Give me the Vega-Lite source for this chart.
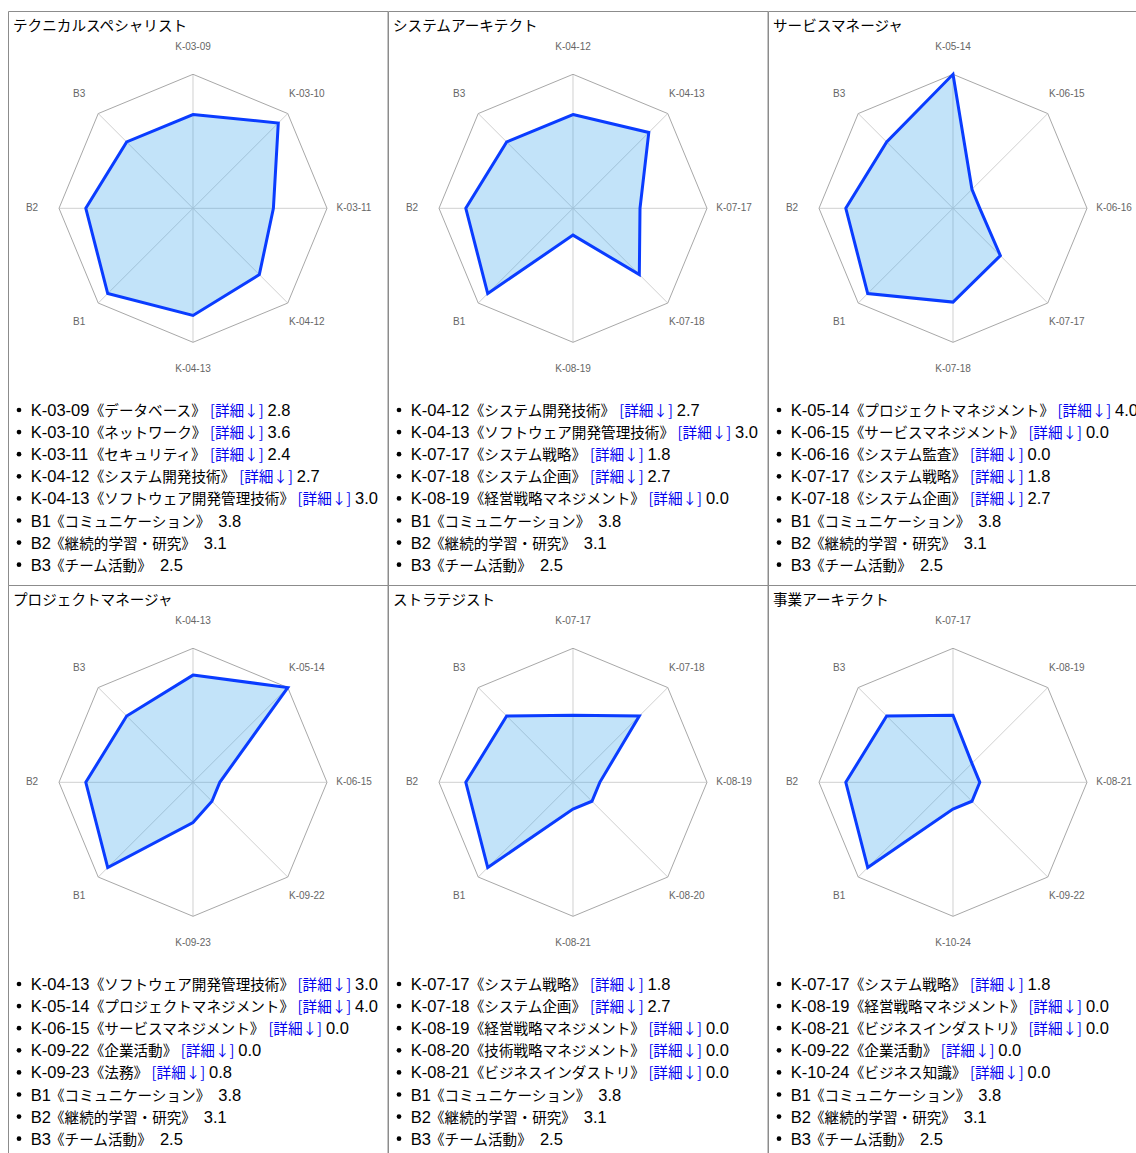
{
"$schema": "https://vega.github.io/schema/vega-lite/v6.json",
"usermeta": {"embedOptions": {"actions": false}},
"padding": {"left": 7, "top": 10, "right": 0, "bottom": 0},
"background": "white",
"bounds": "flush",
"spacing": 0,
"columns": 3,
"config": {
  "view": {"stroke": "#8c8c8c", "strokeWidth": 1},
  "title": {"anchor": "start", "frame": "group", "offset": -23, "dx": 5, "fontSize": 14.6, "font": "Noto Sans CJK JP", "fontWeight": "normal", "color": "#000000", "baseline": "alphabetic"}
},
"data": {"values": [
{"p":"テクニカルスペシャリスト","k":0,"code":"K-03-09","name":"データベース","v":2.8,"r":2.8},
{"p":"テクニカルスペシャリスト","k":1,"code":"K-03-10","name":"ネットワーク","v":3.6,"r":3.6},
{"p":"テクニカルスペシャリスト","k":2,"code":"K-03-11","name":"セキュリティ","v":2.4,"r":2.4},
{"p":"テクニカルスペシャリスト","k":3,"code":"K-04-12","name":"システム開発技術","v":2.7,"r":2.8},
{"p":"テクニカルスペシャリスト","k":4,"code":"K-04-13","name":"ソフトウェア開発管理技術","v":3.0,"r":3.2},
{"p":"テクニカルスペシャリスト","k":5,"code":"B1","name":"コミュニケーション","v":3.8,"r":3.6},
{"p":"テクニカルスペシャリスト","k":6,"code":"B2","name":"継続的学習・研究","v":3.1,"r":3.2},
{"p":"テクニカルスペシャリスト","k":7,"code":"B3","name":"チーム活動","v":2.5,"r":2.8},
{"p":"システムアーキテクト","k":0,"code":"K-04-12","name":"システム開発技術","v":2.7,"r":2.8},
{"p":"システムアーキテクト","k":1,"code":"K-04-13","name":"ソフトウェア開発管理技術","v":3.0,"r":3.2},
{"p":"システムアーキテクト","k":2,"code":"K-07-17","name":"システム戦略","v":1.8,"r":2.0},
{"p":"システムアーキテクト","k":3,"code":"K-07-18","name":"システム企画","v":2.7,"r":2.8},
{"p":"システムアーキテクト","k":4,"code":"K-08-19","name":"経営戦略マネジメント","v":0.0,"r":0.8},
{"p":"システムアーキテクト","k":5,"code":"B1","name":"コミュニケーション","v":3.8,"r":3.6},
{"p":"システムアーキテクト","k":6,"code":"B2","name":"継続的学習・研究","v":3.1,"r":3.2},
{"p":"システムアーキテクト","k":7,"code":"B3","name":"チーム活動","v":2.5,"r":2.8},
{"p":"サービスマネージャ","k":0,"code":"K-05-14","name":"プロジェクトマネジメント","v":4.0,"r":4.0},
{"p":"サービスマネージャ","k":1,"code":"K-06-15","name":"サービスマネジメント","v":0.0,"r":0.8},
{"p":"サービスマネージャ","k":2,"code":"K-06-16","name":"システム監査","v":0.0,"r":0.8},
{"p":"サービスマネージャ","k":3,"code":"K-07-17","name":"システム戦略","v":1.8,"r":2.0},
{"p":"サービスマネージャ","k":4,"code":"K-07-18","name":"システム企画","v":2.7,"r":2.8},
{"p":"サービスマネージャ","k":5,"code":"B1","name":"コミュニケーション","v":3.8,"r":3.6},
{"p":"サービスマネージャ","k":6,"code":"B2","name":"継続的学習・研究","v":3.1,"r":3.2},
{"p":"サービスマネージャ","k":7,"code":"B3","name":"チーム活動","v":2.5,"r":2.8},
{"p":"プロジェクトマネージャ","k":0,"code":"K-04-13","name":"ソフトウェア開発管理技術","v":3.0,"r":3.2},
{"p":"プロジェクトマネージャ","k":1,"code":"K-05-14","name":"プロジェクトマネジメント","v":4.0,"r":4.0},
{"p":"プロジェクトマネージャ","k":2,"code":"K-06-15","name":"サービスマネジメント","v":0.0,"r":0.8},
{"p":"プロジェクトマネージャ","k":3,"code":"K-09-22","name":"企業活動","v":0.0,"r":0.8},
{"p":"プロジェクトマネージャ","k":4,"code":"K-09-23","name":"法務","v":0.8,"r":1.2},
{"p":"プロジェクトマネージャ","k":5,"code":"B1","name":"コミュニケーション","v":3.8,"r":3.6},
{"p":"プロジェクトマネージャ","k":6,"code":"B2","name":"継続的学習・研究","v":3.1,"r":3.2},
{"p":"プロジェクトマネージャ","k":7,"code":"B3","name":"チーム活動","v":2.5,"r":2.8},
{"p":"ストラテジスト","k":0,"code":"K-07-17","name":"システム戦略","v":1.8,"r":2.0},
{"p":"ストラテジスト","k":1,"code":"K-07-18","name":"システム企画","v":2.7,"r":2.8},
{"p":"ストラテジスト","k":2,"code":"K-08-19","name":"経営戦略マネジメント","v":0.0,"r":0.8},
{"p":"ストラテジスト","k":3,"code":"K-08-20","name":"技術戦略マネジメント","v":0.0,"r":0.8},
{"p":"ストラテジスト","k":4,"code":"K-08-21","name":"ビジネスインダストリ","v":0.0,"r":0.8},
{"p":"ストラテジスト","k":5,"code":"B1","name":"コミュニケーション","v":3.8,"r":3.6},
{"p":"ストラテジスト","k":6,"code":"B2","name":"継続的学習・研究","v":3.1,"r":3.2},
{"p":"ストラテジスト","k":7,"code":"B3","name":"チーム活動","v":2.5,"r":2.8},
{"p":"事業アーキテクト","k":0,"code":"K-07-17","name":"システム戦略","v":1.8,"r":2.0},
{"p":"事業アーキテクト","k":1,"code":"K-08-19","name":"経営戦略マネジメント","v":0.0,"r":0.8},
{"p":"事業アーキテクト","k":2,"code":"K-08-21","name":"ビジネスインダストリ","v":0.0,"r":0.8},
{"p":"事業アーキテクト","k":3,"code":"K-09-22","name":"企業活動","v":0.0,"r":0.8},
{"p":"事業アーキテクト","k":4,"code":"K-10-24","name":"ビジネス知識","v":0.0,"r":0.8},
{"p":"事業アーキテクト","k":5,"code":"B1","name":"コミュニケーション","v":3.8,"r":3.6},
{"p":"事業アーキテクト","k":6,"code":"B2","name":"継続的学習・研究","v":3.1,"r":3.2},
{"p":"事業アーキテクト","k":7,"code":"B3","name":"チーム活動","v":2.5,"r":2.8}
]},
"transform": [
  {"calculate": "datum.k * PI / 4", "as": "t"},
  {"calculate": "datum.r * sin(datum.t)", "as": "rx"},
  {"calculate": "datum.r * cos(datum.t)", "as": "ry"},
  {"calculate": "4 * sin(datum.t)", "as": "ox"},
  {"calculate": "4 * cos(datum.t)", "as": "oy"},
  {"calculate": "4.806 * sin(datum.t)", "as": "lx"},
  {"calculate": "4.806 * cos(datum.t)", "as": "ly"},
  {"calculate": "0", "as": "z"},
  {"calculate": "11", "as": "bx"},
  {"calculate": "22.7", "as": "tx"},
  {"calculate": "substring(datum.code, 0, 1) == 'K'", "as": "isK"},
  {"calculate": "'《' + datum.name + '》'", "as": "cjk"},
  {"calculate": "22.7 + (datum.isK ? 59 : 19.3)", "as": "xc"},
  {"calculate": "datum.xc + (length(datum.name) + 2) * 14.6", "as": "xe"},
  {"calculate": "datum.xe + 3.5", "as": "xb"},
  {"calculate": "datum.isK ? datum.xb + 57.5 : datum.xe + 7.7", "as": "xv"}
],
"concat": [
{"width": 379.5, "height": 574, "title": "テクニカルスペシャリスト",
 "transform": [{"filter": "datum.p == 'テクニカルスペシャリスト'"}],
 "resolve": {"scale": {"x": "independent", "y": "independent"}},
 "layer": [
  {"layer": [
   {"mark": {"type": "rule", "stroke": "#d0d0d0", "strokeWidth": 1},
    "encoding": {"x": {"field": "z", "type": "quantitative", "scale": {"domain": [-5.5224, 5.806], "nice": false, "zero": false}, "axis": null},
                 "y": {"field": "z", "type": "quantitative", "scale": {"domain": [-11.2448, 5.8896], "nice": false, "zero": false}, "axis": null},
                 "x2": {"field": "ox"}, "y2": {"field": "oy"}}},
   {"mark": {"type": "line", "interpolate": "linear-closed", "stroke": "#a8a8a8", "strokeWidth": 1},
    "encoding": {"x": {"field": "ox", "type": "quantitative", "scale": {"domain": [-5.5224, 5.806], "nice": false, "zero": false}, "axis": null},
                 "y": {"field": "oy", "type": "quantitative", "scale": {"domain": [-11.2448, 5.8896], "nice": false, "zero": false}, "axis": null},
                 "order": {"field": "k", "type": "quantitative"}}},
   {"mark": {"type": "line", "interpolate": "linear-closed", "fill": "#36a2eb", "fillOpacity": 0.3, "stroke": "#0a3cff", "strokeWidth": 3, "strokeJoin": "miter"},
    "encoding": {"x": {"field": "rx", "type": "quantitative", "scale": {"domain": [-5.5224, 5.806], "nice": false, "zero": false}, "axis": null},
                 "y": {"field": "ry", "type": "quantitative", "scale": {"domain": [-11.2448, 5.8896], "nice": false, "zero": false}, "axis": null},
                 "order": {"field": "k", "type": "quantitative"}}},
   {"mark": {"type": "text", "font": "Liberation Sans", "fontSize": 10, "color": "#666666", "align": "center", "baseline": "middle"},
    "encoding": {"x": {"field": "lx", "type": "quantitative", "scale": {"domain": [-5.5224, 5.806], "nice": false, "zero": false}, "axis": null},
                 "y": {"field": "ly", "type": "quantitative", "scale": {"domain": [-11.2448, 5.8896], "nice": false, "zero": false}, "axis": null},
                 "text": {"field": "code", "type": "nominal"}}}
  ]},
  {"layer": [
   {"mark": {"type": "circle", "size": 22, "color": "#000000", "opacity": 1, "yOffset": -6},
    "encoding": {"x": {"field": "bx", "type": "quantitative", "scale": {"domain": [0, 379.5], "nice": false, "zero": false}, "axis": null},
                 "y": {"field": "k", "type": "quantitative", "scale": {"domain": [0, 7], "range": [405, 559.7], "nice": false, "zero": false}, "axis": null}}},
   {"mark": {"type": "text", "font": "Liberation Sans", "fontSize": 16.5, "color": "#000000", "align": "left", "baseline": "alphabetic"},
    "encoding": {"x": {"field": "tx", "type": "quantitative", "scale": {"domain": [0, 379.5], "nice": false, "zero": false}, "axis": null},
                 "y": {"field": "k", "type": "quantitative", "scale": {"domain": [0, 7], "range": [405, 559.7], "nice": false, "zero": false}, "axis": null},
                 "text": {"field": "code", "type": "nominal"}}},
   {"mark": {"type": "text", "font": "Noto Sans CJK JP", "fontSize": 14.6, "color": "#000000", "align": "left", "baseline": "alphabetic"},
    "encoding": {"x": {"field": "xc", "type": "quantitative", "scale": {"domain": [0, 379.5], "nice": false, "zero": false}, "axis": null},
                 "y": {"field": "k", "type": "quantitative", "scale": {"domain": [0, 7], "range": [405, 559.7], "nice": false, "zero": false}, "axis": null},
                 "text": {"field": "cjk", "type": "nominal"}}},
   {"transform": [{"filter": "datum.isK"}],
    "mark": {"type": "text", "text": "[詳細↓]", "font": "Noto Sans CJK JP", "fontSize": 14.6, "color": "#0000ee", "align": "left", "baseline": "alphabetic"},
    "encoding": {"x": {"field": "xb", "type": "quantitative", "scale": {"domain": [0, 379.5], "nice": false, "zero": false}, "axis": null},
                 "y": {"field": "k", "type": "quantitative", "scale": {"domain": [0, 7], "range": [405, 559.7], "nice": false, "zero": false}, "axis": null}}},
   {"mark": {"type": "text", "font": "Liberation Sans", "fontSize": 16.5, "color": "#000000", "align": "left", "baseline": "alphabetic"},
    "encoding": {"x": {"field": "xv", "type": "quantitative", "scale": {"domain": [0, 379.5], "nice": false, "zero": false}, "axis": null},
                 "y": {"field": "k", "type": "quantitative", "scale": {"domain": [0, 7], "range": [405, 559.7], "nice": false, "zero": false}, "axis": null},
                 "text": {"field": "v", "type": "quantitative", "format": ".1f"}}}
  ]}
 ]},
{"width": 379.5, "height": 574, "title": "システムアーキテクト",
 "transform": [{"filter": "datum.p == 'システムアーキテクト'"}],
 "resolve": {"scale": {"x": "independent", "y": "independent"}},
 "layer": [
  {"layer": [
   {"mark": {"type": "rule", "stroke": "#d0d0d0", "strokeWidth": 1},
    "encoding": {"x": {"field": "z", "type": "quantitative", "scale": {"domain": [-5.5224, 5.806], "nice": false, "zero": false}, "axis": null},
                 "y": {"field": "z", "type": "quantitative", "scale": {"domain": [-11.2448, 5.8896], "nice": false, "zero": false}, "axis": null},
                 "x2": {"field": "ox"}, "y2": {"field": "oy"}}},
   {"mark": {"type": "line", "interpolate": "linear-closed", "stroke": "#a8a8a8", "strokeWidth": 1},
    "encoding": {"x": {"field": "ox", "type": "quantitative", "scale": {"domain": [-5.5224, 5.806], "nice": false, "zero": false}, "axis": null},
                 "y": {"field": "oy", "type": "quantitative", "scale": {"domain": [-11.2448, 5.8896], "nice": false, "zero": false}, "axis": null},
                 "order": {"field": "k", "type": "quantitative"}}},
   {"mark": {"type": "line", "interpolate": "linear-closed", "fill": "#36a2eb", "fillOpacity": 0.3, "stroke": "#0a3cff", "strokeWidth": 3, "strokeJoin": "miter"},
    "encoding": {"x": {"field": "rx", "type": "quantitative", "scale": {"domain": [-5.5224, 5.806], "nice": false, "zero": false}, "axis": null},
                 "y": {"field": "ry", "type": "quantitative", "scale": {"domain": [-11.2448, 5.8896], "nice": false, "zero": false}, "axis": null},
                 "order": {"field": "k", "type": "quantitative"}}},
   {"mark": {"type": "text", "font": "Liberation Sans", "fontSize": 10, "color": "#666666", "align": "center", "baseline": "middle"},
    "encoding": {"x": {"field": "lx", "type": "quantitative", "scale": {"domain": [-5.5224, 5.806], "nice": false, "zero": false}, "axis": null},
                 "y": {"field": "ly", "type": "quantitative", "scale": {"domain": [-11.2448, 5.8896], "nice": false, "zero": false}, "axis": null},
                 "text": {"field": "code", "type": "nominal"}}}
  ]},
  {"layer": [
   {"mark": {"type": "circle", "size": 22, "color": "#000000", "opacity": 1, "yOffset": -6},
    "encoding": {"x": {"field": "bx", "type": "quantitative", "scale": {"domain": [0, 379.5], "nice": false, "zero": false}, "axis": null},
                 "y": {"field": "k", "type": "quantitative", "scale": {"domain": [0, 7], "range": [405, 559.7], "nice": false, "zero": false}, "axis": null}}},
   {"mark": {"type": "text", "font": "Liberation Sans", "fontSize": 16.5, "color": "#000000", "align": "left", "baseline": "alphabetic"},
    "encoding": {"x": {"field": "tx", "type": "quantitative", "scale": {"domain": [0, 379.5], "nice": false, "zero": false}, "axis": null},
                 "y": {"field": "k", "type": "quantitative", "scale": {"domain": [0, 7], "range": [405, 559.7], "nice": false, "zero": false}, "axis": null},
                 "text": {"field": "code", "type": "nominal"}}},
   {"mark": {"type": "text", "font": "Noto Sans CJK JP", "fontSize": 14.6, "color": "#000000", "align": "left", "baseline": "alphabetic"},
    "encoding": {"x": {"field": "xc", "type": "quantitative", "scale": {"domain": [0, 379.5], "nice": false, "zero": false}, "axis": null},
                 "y": {"field": "k", "type": "quantitative", "scale": {"domain": [0, 7], "range": [405, 559.7], "nice": false, "zero": false}, "axis": null},
                 "text": {"field": "cjk", "type": "nominal"}}},
   {"transform": [{"filter": "datum.isK"}],
    "mark": {"type": "text", "text": "[詳細↓]", "font": "Noto Sans CJK JP", "fontSize": 14.6, "color": "#0000ee", "align": "left", "baseline": "alphabetic"},
    "encoding": {"x": {"field": "xb", "type": "quantitative", "scale": {"domain": [0, 379.5], "nice": false, "zero": false}, "axis": null},
                 "y": {"field": "k", "type": "quantitative", "scale": {"domain": [0, 7], "range": [405, 559.7], "nice": false, "zero": false}, "axis": null}}},
   {"mark": {"type": "text", "font": "Liberation Sans", "fontSize": 16.5, "color": "#000000", "align": "left", "baseline": "alphabetic"},
    "encoding": {"x": {"field": "xv", "type": "quantitative", "scale": {"domain": [0, 379.5], "nice": false, "zero": false}, "axis": null},
                 "y": {"field": "k", "type": "quantitative", "scale": {"domain": [0, 7], "range": [405, 559.7], "nice": false, "zero": false}, "axis": null},
                 "text": {"field": "v", "type": "quantitative", "format": ".1f"}}}
  ]}
 ]},
{"width": 379.5, "height": 574, "title": "サービスマネージャ",
 "transform": [{"filter": "datum.p == 'サービスマネージャ'"}],
 "resolve": {"scale": {"x": "independent", "y": "independent"}},
 "layer": [
  {"layer": [
   {"mark": {"type": "rule", "stroke": "#d0d0d0", "strokeWidth": 1},
    "encoding": {"x": {"field": "z", "type": "quantitative", "scale": {"domain": [-5.5224, 5.806], "nice": false, "zero": false}, "axis": null},
                 "y": {"field": "z", "type": "quantitative", "scale": {"domain": [-11.2448, 5.8896], "nice": false, "zero": false}, "axis": null},
                 "x2": {"field": "ox"}, "y2": {"field": "oy"}}},
   {"mark": {"type": "line", "interpolate": "linear-closed", "stroke": "#a8a8a8", "strokeWidth": 1},
    "encoding": {"x": {"field": "ox", "type": "quantitative", "scale": {"domain": [-5.5224, 5.806], "nice": false, "zero": false}, "axis": null},
                 "y": {"field": "oy", "type": "quantitative", "scale": {"domain": [-11.2448, 5.8896], "nice": false, "zero": false}, "axis": null},
                 "order": {"field": "k", "type": "quantitative"}}},
   {"mark": {"type": "line", "interpolate": "linear-closed", "fill": "#36a2eb", "fillOpacity": 0.3, "stroke": "#0a3cff", "strokeWidth": 3, "strokeJoin": "miter"},
    "encoding": {"x": {"field": "rx", "type": "quantitative", "scale": {"domain": [-5.5224, 5.806], "nice": false, "zero": false}, "axis": null},
                 "y": {"field": "ry", "type": "quantitative", "scale": {"domain": [-11.2448, 5.8896], "nice": false, "zero": false}, "axis": null},
                 "order": {"field": "k", "type": "quantitative"}}},
   {"mark": {"type": "text", "font": "Liberation Sans", "fontSize": 10, "color": "#666666", "align": "center", "baseline": "middle"},
    "encoding": {"x": {"field": "lx", "type": "quantitative", "scale": {"domain": [-5.5224, 5.806], "nice": false, "zero": false}, "axis": null},
                 "y": {"field": "ly", "type": "quantitative", "scale": {"domain": [-11.2448, 5.8896], "nice": false, "zero": false}, "axis": null},
                 "text": {"field": "code", "type": "nominal"}}}
  ]},
  {"layer": [
   {"mark": {"type": "circle", "size": 22, "color": "#000000", "opacity": 1, "yOffset": -6},
    "encoding": {"x": {"field": "bx", "type": "quantitative", "scale": {"domain": [0, 379.5], "nice": false, "zero": false}, "axis": null},
                 "y": {"field": "k", "type": "quantitative", "scale": {"domain": [0, 7], "range": [405, 559.7], "nice": false, "zero": false}, "axis": null}}},
   {"mark": {"type": "text", "font": "Liberation Sans", "fontSize": 16.5, "color": "#000000", "align": "left", "baseline": "alphabetic"},
    "encoding": {"x": {"field": "tx", "type": "quantitative", "scale": {"domain": [0, 379.5], "nice": false, "zero": false}, "axis": null},
                 "y": {"field": "k", "type": "quantitative", "scale": {"domain": [0, 7], "range": [405, 559.7], "nice": false, "zero": false}, "axis": null},
                 "text": {"field": "code", "type": "nominal"}}},
   {"mark": {"type": "text", "font": "Noto Sans CJK JP", "fontSize": 14.6, "color": "#000000", "align": "left", "baseline": "alphabetic"},
    "encoding": {"x": {"field": "xc", "type": "quantitative", "scale": {"domain": [0, 379.5], "nice": false, "zero": false}, "axis": null},
                 "y": {"field": "k", "type": "quantitative", "scale": {"domain": [0, 7], "range": [405, 559.7], "nice": false, "zero": false}, "axis": null},
                 "text": {"field": "cjk", "type": "nominal"}}},
   {"transform": [{"filter": "datum.isK"}],
    "mark": {"type": "text", "text": "[詳細↓]", "font": "Noto Sans CJK JP", "fontSize": 14.6, "color": "#0000ee", "align": "left", "baseline": "alphabetic"},
    "encoding": {"x": {"field": "xb", "type": "quantitative", "scale": {"domain": [0, 379.5], "nice": false, "zero": false}, "axis": null},
                 "y": {"field": "k", "type": "quantitative", "scale": {"domain": [0, 7], "range": [405, 559.7], "nice": false, "zero": false}, "axis": null}}},
   {"mark": {"type": "text", "font": "Liberation Sans", "fontSize": 16.5, "color": "#000000", "align": "left", "baseline": "alphabetic"},
    "encoding": {"x": {"field": "xv", "type": "quantitative", "scale": {"domain": [0, 379.5], "nice": false, "zero": false}, "axis": null},
                 "y": {"field": "k", "type": "quantitative", "scale": {"domain": [0, 7], "range": [405, 559.7], "nice": false, "zero": false}, "axis": null},
                 "text": {"field": "v", "type": "quantitative", "format": ".1f"}}}
  ]}
 ]},
{"width": 379.5, "height": 574, "title": "プロジェクトマネージャ",
 "transform": [{"filter": "datum.p == 'プロジェクトマネージャ'"}],
 "resolve": {"scale": {"x": "independent", "y": "independent"}},
 "layer": [
  {"layer": [
   {"mark": {"type": "rule", "stroke": "#d0d0d0", "strokeWidth": 1},
    "encoding": {"x": {"field": "z", "type": "quantitative", "scale": {"domain": [-5.5224, 5.806], "nice": false, "zero": false}, "axis": null},
                 "y": {"field": "z", "type": "quantitative", "scale": {"domain": [-11.2448, 5.8896], "nice": false, "zero": false}, "axis": null},
                 "x2": {"field": "ox"}, "y2": {"field": "oy"}}},
   {"mark": {"type": "line", "interpolate": "linear-closed", "stroke": "#a8a8a8", "strokeWidth": 1},
    "encoding": {"x": {"field": "ox", "type": "quantitative", "scale": {"domain": [-5.5224, 5.806], "nice": false, "zero": false}, "axis": null},
                 "y": {"field": "oy", "type": "quantitative", "scale": {"domain": [-11.2448, 5.8896], "nice": false, "zero": false}, "axis": null},
                 "order": {"field": "k", "type": "quantitative"}}},
   {"mark": {"type": "line", "interpolate": "linear-closed", "fill": "#36a2eb", "fillOpacity": 0.3, "stroke": "#0a3cff", "strokeWidth": 3, "strokeJoin": "miter"},
    "encoding": {"x": {"field": "rx", "type": "quantitative", "scale": {"domain": [-5.5224, 5.806], "nice": false, "zero": false}, "axis": null},
                 "y": {"field": "ry", "type": "quantitative", "scale": {"domain": [-11.2448, 5.8896], "nice": false, "zero": false}, "axis": null},
                 "order": {"field": "k", "type": "quantitative"}}},
   {"mark": {"type": "text", "font": "Liberation Sans", "fontSize": 10, "color": "#666666", "align": "center", "baseline": "middle"},
    "encoding": {"x": {"field": "lx", "type": "quantitative", "scale": {"domain": [-5.5224, 5.806], "nice": false, "zero": false}, "axis": null},
                 "y": {"field": "ly", "type": "quantitative", "scale": {"domain": [-11.2448, 5.8896], "nice": false, "zero": false}, "axis": null},
                 "text": {"field": "code", "type": "nominal"}}}
  ]},
  {"layer": [
   {"mark": {"type": "circle", "size": 22, "color": "#000000", "opacity": 1, "yOffset": -6},
    "encoding": {"x": {"field": "bx", "type": "quantitative", "scale": {"domain": [0, 379.5], "nice": false, "zero": false}, "axis": null},
                 "y": {"field": "k", "type": "quantitative", "scale": {"domain": [0, 7], "range": [405, 559.7], "nice": false, "zero": false}, "axis": null}}},
   {"mark": {"type": "text", "font": "Liberation Sans", "fontSize": 16.5, "color": "#000000", "align": "left", "baseline": "alphabetic"},
    "encoding": {"x": {"field": "tx", "type": "quantitative", "scale": {"domain": [0, 379.5], "nice": false, "zero": false}, "axis": null},
                 "y": {"field": "k", "type": "quantitative", "scale": {"domain": [0, 7], "range": [405, 559.7], "nice": false, "zero": false}, "axis": null},
                 "text": {"field": "code", "type": "nominal"}}},
   {"mark": {"type": "text", "font": "Noto Sans CJK JP", "fontSize": 14.6, "color": "#000000", "align": "left", "baseline": "alphabetic"},
    "encoding": {"x": {"field": "xc", "type": "quantitative", "scale": {"domain": [0, 379.5], "nice": false, "zero": false}, "axis": null},
                 "y": {"field": "k", "type": "quantitative", "scale": {"domain": [0, 7], "range": [405, 559.7], "nice": false, "zero": false}, "axis": null},
                 "text": {"field": "cjk", "type": "nominal"}}},
   {"transform": [{"filter": "datum.isK"}],
    "mark": {"type": "text", "text": "[詳細↓]", "font": "Noto Sans CJK JP", "fontSize": 14.6, "color": "#0000ee", "align": "left", "baseline": "alphabetic"},
    "encoding": {"x": {"field": "xb", "type": "quantitative", "scale": {"domain": [0, 379.5], "nice": false, "zero": false}, "axis": null},
                 "y": {"field": "k", "type": "quantitative", "scale": {"domain": [0, 7], "range": [405, 559.7], "nice": false, "zero": false}, "axis": null}}},
   {"mark": {"type": "text", "font": "Liberation Sans", "fontSize": 16.5, "color": "#000000", "align": "left", "baseline": "alphabetic"},
    "encoding": {"x": {"field": "xv", "type": "quantitative", "scale": {"domain": [0, 379.5], "nice": false, "zero": false}, "axis": null},
                 "y": {"field": "k", "type": "quantitative", "scale": {"domain": [0, 7], "range": [405, 559.7], "nice": false, "zero": false}, "axis": null},
                 "text": {"field": "v", "type": "quantitative", "format": ".1f"}}}
  ]}
 ]},
{"width": 379.5, "height": 574, "title": "ストラテジスト",
 "transform": [{"filter": "datum.p == 'ストラテジスト'"}],
 "resolve": {"scale": {"x": "independent", "y": "independent"}},
 "layer": [
  {"layer": [
   {"mark": {"type": "rule", "stroke": "#d0d0d0", "strokeWidth": 1},
    "encoding": {"x": {"field": "z", "type": "quantitative", "scale": {"domain": [-5.5224, 5.806], "nice": false, "zero": false}, "axis": null},
                 "y": {"field": "z", "type": "quantitative", "scale": {"domain": [-11.2448, 5.8896], "nice": false, "zero": false}, "axis": null},
                 "x2": {"field": "ox"}, "y2": {"field": "oy"}}},
   {"mark": {"type": "line", "interpolate": "linear-closed", "stroke": "#a8a8a8", "strokeWidth": 1},
    "encoding": {"x": {"field": "ox", "type": "quantitative", "scale": {"domain": [-5.5224, 5.806], "nice": false, "zero": false}, "axis": null},
                 "y": {"field": "oy", "type": "quantitative", "scale": {"domain": [-11.2448, 5.8896], "nice": false, "zero": false}, "axis": null},
                 "order": {"field": "k", "type": "quantitative"}}},
   {"mark": {"type": "line", "interpolate": "linear-closed", "fill": "#36a2eb", "fillOpacity": 0.3, "stroke": "#0a3cff", "strokeWidth": 3, "strokeJoin": "miter"},
    "encoding": {"x": {"field": "rx", "type": "quantitative", "scale": {"domain": [-5.5224, 5.806], "nice": false, "zero": false}, "axis": null},
                 "y": {"field": "ry", "type": "quantitative", "scale": {"domain": [-11.2448, 5.8896], "nice": false, "zero": false}, "axis": null},
                 "order": {"field": "k", "type": "quantitative"}}},
   {"mark": {"type": "text", "font": "Liberation Sans", "fontSize": 10, "color": "#666666", "align": "center", "baseline": "middle"},
    "encoding": {"x": {"field": "lx", "type": "quantitative", "scale": {"domain": [-5.5224, 5.806], "nice": false, "zero": false}, "axis": null},
                 "y": {"field": "ly", "type": "quantitative", "scale": {"domain": [-11.2448, 5.8896], "nice": false, "zero": false}, "axis": null},
                 "text": {"field": "code", "type": "nominal"}}}
  ]},
  {"layer": [
   {"mark": {"type": "circle", "size": 22, "color": "#000000", "opacity": 1, "yOffset": -6},
    "encoding": {"x": {"field": "bx", "type": "quantitative", "scale": {"domain": [0, 379.5], "nice": false, "zero": false}, "axis": null},
                 "y": {"field": "k", "type": "quantitative", "scale": {"domain": [0, 7], "range": [405, 559.7], "nice": false, "zero": false}, "axis": null}}},
   {"mark": {"type": "text", "font": "Liberation Sans", "fontSize": 16.5, "color": "#000000", "align": "left", "baseline": "alphabetic"},
    "encoding": {"x": {"field": "tx", "type": "quantitative", "scale": {"domain": [0, 379.5], "nice": false, "zero": false}, "axis": null},
                 "y": {"field": "k", "type": "quantitative", "scale": {"domain": [0, 7], "range": [405, 559.7], "nice": false, "zero": false}, "axis": null},
                 "text": {"field": "code", "type": "nominal"}}},
   {"mark": {"type": "text", "font": "Noto Sans CJK JP", "fontSize": 14.6, "color": "#000000", "align": "left", "baseline": "alphabetic"},
    "encoding": {"x": {"field": "xc", "type": "quantitative", "scale": {"domain": [0, 379.5], "nice": false, "zero": false}, "axis": null},
                 "y": {"field": "k", "type": "quantitative", "scale": {"domain": [0, 7], "range": [405, 559.7], "nice": false, "zero": false}, "axis": null},
                 "text": {"field": "cjk", "type": "nominal"}}},
   {"transform": [{"filter": "datum.isK"}],
    "mark": {"type": "text", "text": "[詳細↓]", "font": "Noto Sans CJK JP", "fontSize": 14.6, "color": "#0000ee", "align": "left", "baseline": "alphabetic"},
    "encoding": {"x": {"field": "xb", "type": "quantitative", "scale": {"domain": [0, 379.5], "nice": false, "zero": false}, "axis": null},
                 "y": {"field": "k", "type": "quantitative", "scale": {"domain": [0, 7], "range": [405, 559.7], "nice": false, "zero": false}, "axis": null}}},
   {"mark": {"type": "text", "font": "Liberation Sans", "fontSize": 16.5, "color": "#000000", "align": "left", "baseline": "alphabetic"},
    "encoding": {"x": {"field": "xv", "type": "quantitative", "scale": {"domain": [0, 379.5], "nice": false, "zero": false}, "axis": null},
                 "y": {"field": "k", "type": "quantitative", "scale": {"domain": [0, 7], "range": [405, 559.7], "nice": false, "zero": false}, "axis": null},
                 "text": {"field": "v", "type": "quantitative", "format": ".1f"}}}
  ]}
 ]},
{"width": 379.5, "height": 574, "title": "事業アーキテクト",
 "transform": [{"filter": "datum.p == '事業アーキテクト'"}],
 "resolve": {"scale": {"x": "independent", "y": "independent"}},
 "layer": [
  {"layer": [
   {"mark": {"type": "rule", "stroke": "#d0d0d0", "strokeWidth": 1},
    "encoding": {"x": {"field": "z", "type": "quantitative", "scale": {"domain": [-5.5224, 5.806], "nice": false, "zero": false}, "axis": null},
                 "y": {"field": "z", "type": "quantitative", "scale": {"domain": [-11.2448, 5.8896], "nice": false, "zero": false}, "axis": null},
                 "x2": {"field": "ox"}, "y2": {"field": "oy"}}},
   {"mark": {"type": "line", "interpolate": "linear-closed", "stroke": "#a8a8a8", "strokeWidth": 1},
    "encoding": {"x": {"field": "ox", "type": "quantitative", "scale": {"domain": [-5.5224, 5.806], "nice": false, "zero": false}, "axis": null},
                 "y": {"field": "oy", "type": "quantitative", "scale": {"domain": [-11.2448, 5.8896], "nice": false, "zero": false}, "axis": null},
                 "order": {"field": "k", "type": "quantitative"}}},
   {"mark": {"type": "line", "interpolate": "linear-closed", "fill": "#36a2eb", "fillOpacity": 0.3, "stroke": "#0a3cff", "strokeWidth": 3, "strokeJoin": "miter"},
    "encoding": {"x": {"field": "rx", "type": "quantitative", "scale": {"domain": [-5.5224, 5.806], "nice": false, "zero": false}, "axis": null},
                 "y": {"field": "ry", "type": "quantitative", "scale": {"domain": [-11.2448, 5.8896], "nice": false, "zero": false}, "axis": null},
                 "order": {"field": "k", "type": "quantitative"}}},
   {"mark": {"type": "text", "font": "Liberation Sans", "fontSize": 10, "color": "#666666", "align": "center", "baseline": "middle"},
    "encoding": {"x": {"field": "lx", "type": "quantitative", "scale": {"domain": [-5.5224, 5.806], "nice": false, "zero": false}, "axis": null},
                 "y": {"field": "ly", "type": "quantitative", "scale": {"domain": [-11.2448, 5.8896], "nice": false, "zero": false}, "axis": null},
                 "text": {"field": "code", "type": "nominal"}}}
  ]},
  {"layer": [
   {"mark": {"type": "circle", "size": 22, "color": "#000000", "opacity": 1, "yOffset": -6},
    "encoding": {"x": {"field": "bx", "type": "quantitative", "scale": {"domain": [0, 379.5], "nice": false, "zero": false}, "axis": null},
                 "y": {"field": "k", "type": "quantitative", "scale": {"domain": [0, 7], "range": [405, 559.7], "nice": false, "zero": false}, "axis": null}}},
   {"mark": {"type": "text", "font": "Liberation Sans", "fontSize": 16.5, "color": "#000000", "align": "left", "baseline": "alphabetic"},
    "encoding": {"x": {"field": "tx", "type": "quantitative", "scale": {"domain": [0, 379.5], "nice": false, "zero": false}, "axis": null},
                 "y": {"field": "k", "type": "quantitative", "scale": {"domain": [0, 7], "range": [405, 559.7], "nice": false, "zero": false}, "axis": null},
                 "text": {"field": "code", "type": "nominal"}}},
   {"mark": {"type": "text", "font": "Noto Sans CJK JP", "fontSize": 14.6, "color": "#000000", "align": "left", "baseline": "alphabetic"},
    "encoding": {"x": {"field": "xc", "type": "quantitative", "scale": {"domain": [0, 379.5], "nice": false, "zero": false}, "axis": null},
                 "y": {"field": "k", "type": "quantitative", "scale": {"domain": [0, 7], "range": [405, 559.7], "nice": false, "zero": false}, "axis": null},
                 "text": {"field": "cjk", "type": "nominal"}}},
   {"transform": [{"filter": "datum.isK"}],
    "mark": {"type": "text", "text": "[詳細↓]", "font": "Noto Sans CJK JP", "fontSize": 14.6, "color": "#0000ee", "align": "left", "baseline": "alphabetic"},
    "encoding": {"x": {"field": "xb", "type": "quantitative", "scale": {"domain": [0, 379.5], "nice": false, "zero": false}, "axis": null},
                 "y": {"field": "k", "type": "quantitative", "scale": {"domain": [0, 7], "range": [405, 559.7], "nice": false, "zero": false}, "axis": null}}},
   {"mark": {"type": "text", "font": "Liberation Sans", "fontSize": 16.5, "color": "#000000", "align": "left", "baseline": "alphabetic"},
    "encoding": {"x": {"field": "xv", "type": "quantitative", "scale": {"domain": [0, 379.5], "nice": false, "zero": false}, "axis": null},
                 "y": {"field": "k", "type": "quantitative", "scale": {"domain": [0, 7], "range": [405, 559.7], "nice": false, "zero": false}, "axis": null},
                 "text": {"field": "v", "type": "quantitative", "format": ".1f"}}}
  ]}
 ]}
]
}
